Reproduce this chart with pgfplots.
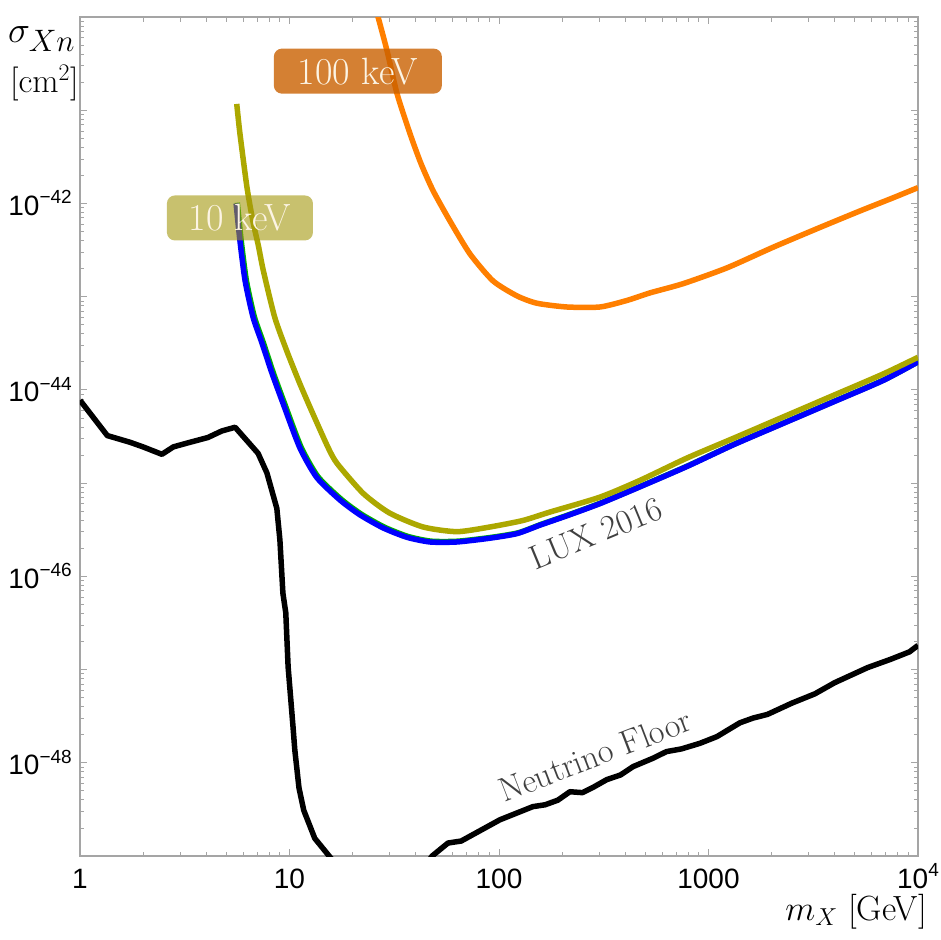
\RequirePackage{fix-cm}
\documentclass[border=0pt]{standalone}
\usepackage{fontspec}
\usepackage{pgfplots}
\pgfplotsset{compat=1.18}
\newfontfamily\arial{Liberation Sans}
\definecolor{luxblue}{RGB}{0,0,255}
\definecolor{luxgreen}{RGB}{0,175,0}
\definecolor{olivecurve}{RGB}{172,168,0}
\definecolor{orangecurve}{RGB}{255,127,0}
\definecolor{boxorange}{RGB}{201,96,0}
\definecolor{boxolive}{RGB}{163,152,13}
\definecolor{boxtext}{RGB}{252,244,228}
\definecolor{axisgray}{RGB}{165,165,165}
\newcommand{\tl}[1]{10\raisebox{0.42em}{\fontsize{19bp}{19bp}\selectfont #1}}
\begin{document}
\begin{tikzpicture}
\begin{axis}[
  scale only axis,
  width=838bp, height=839bp,
  xmode=log, ymode=log,
  xmin=1, xmax=10000, ymin=1e-49, ymax=1e-40,
  axis line style={axisgray, line width=1.2bp},
  every tick/.style={axisgray, line width=0.9bp},
  major tick length=7bp, minor tick length=4.5bp,
  xtick={1,10,100,1000,10000},
  xticklabels={1,10,100,1000,\tl{4}},
  minor xtick={2,3,4,5,6,7,8,9,20,30,40,50,60,70,80,90,200,300,400,500,600,700,800,900,2000,3000,4000,5000,6000,7000,8000,9000},
  ytick={1e-49,1e-48,1e-47,1e-46,1e-45,1e-44,1e-43,1e-42,1e-41,1e-40},
  yticklabels={,\tl{−48},,\tl{−46},,\tl{−44},,\tl{−42},,},
  minor ytick={2e-49,3e-49,4e-49,5e-49,6e-49,7e-49,8e-49,9e-49,
    2e-48,3e-48,4e-48,5e-48,6e-48,7e-48,8e-48,9e-48,
    2e-47,3e-47,4e-47,5e-47,6e-47,7e-47,8e-47,9e-47,
    2e-46,3e-46,4e-46,5e-46,6e-46,7e-46,8e-46,9e-46,
    2e-45,3e-45,4e-45,5e-45,6e-45,7e-45,8e-45,9e-45,
    2e-44,3e-44,4e-44,5e-44,6e-44,7e-44,8e-44,9e-44,
    2e-43,3e-43,4e-43,5e-43,6e-43,7e-43,8e-43,9e-43,
    2e-42,3e-42,4e-42,5e-42,6e-42,7e-42,8e-42,9e-42,
    2e-41,3e-41,4e-41,5e-41,6e-41,7e-41,8e-41,9e-41},
  xticklabel style={font=\arial\fontsize{28bp}{28bp}\selectfont, anchor=north, inner sep=0pt, text height=20bp, text depth=0pt, yshift=-12bp},
  yticklabel style={font=\arial\fontsize{28bp}{28bp}\selectfont, anchor=east, inner sep=0pt, text height=20bp, text depth=0pt, xshift=-8bp, yshift=-2bp},
]
% Neutrino floor
\addplot[black, line width=5.5bp, line join=round] coordinates {
(1,7.76e-45) (1.35,3.24e-45) (1.73,2.75e-45) (2.0,2.45e-45) (2.46,2.04e-45)
(2.79,2.45e-45) (3.24,2.69e-45) (4.08,3.09e-45) (4.75,3.63e-45) (5.5,3.98e-45)
(7.08,2.09e-45) (7.8,1.29e-45) (8.7,5.37e-46) (9.0,2.45e-46) (9.3,6.61e-47)
(9.6,4.07e-47) (9.85,1.07e-47) (10.4,2.40e-48) (10.6,1.38e-48) (11.1,5.37e-49)
(11.7,3.09e-49) (13.2,1.55e-49) (15.6,9.77e-50) (20,5.0e-50) (30,3.2e-50)
(40,5.6e-50) (47.9,1.0e-49) (57.1,1.38e-49) (66,1.45e-49) (101,2.45e-49)
(145,3.39e-49) (166,3.55e-49) (191,3.98e-49) (218,4.90e-49) (250,4.79e-49)
(283,5.50e-49) (327,6.61e-49) (380,7.41e-49) (437,9.12e-49) (543,1.12e-48)
(630,1.32e-48) (742,1.41e-48) (910,1.62e-48) (1096,1.91e-48) (1413,2.69e-48)
(1630,3.02e-48) (1913,3.31e-48) (2500,4.37e-48) (3220,5.50e-48) (4000,7.24e-48)
(5740,1.05e-47) (7400,1.29e-47) (9100,1.55e-47) (10000,1.82e-47)
};
% LUX 2016 (green underlay)
\addplot[luxgreen, line width=5.5bp, smooth, tension=0.4, xshift=1.2bp, yshift=0.8bp] coordinates {
(5.56,1.0e-42) (5.8,3.98e-43) (6.14,1.48e-43) (6.7,6.03e-44) (7.4,3.16e-44)
(8.25,1.51e-44) (9.3,7.24e-45) (11.2,2.40e-45) (13.5,1.15e-45) (17.4,6.61e-46)
(21.7,4.57e-46) (28,3.31e-46) (36.3,2.63e-46) (46.8,2.34e-46) (63,2.34e-46)
(90.6,2.57e-46) (122,2.88e-46) (157,3.55e-46) (211,4.47e-46) (303,6.03e-46)
(470,9.12e-46) (789,1.51e-45) (1310,2.57e-45) (2270,4.37e-45) (3930,7.41e-45)
(6800,1.26e-44) (10000,2.0e-44)
};
% LUX 2016 (blue)
\addplot[luxblue, line width=5.5bp, smooth, tension=0.4] coordinates {
(5.56,1.0e-42) (5.8,3.98e-43) (6.14,1.48e-43) (6.7,6.03e-44) (7.4,3.16e-44)
(8.25,1.51e-44) (9.3,7.24e-45) (11.2,2.40e-45) (13.5,1.15e-45) (17.4,6.61e-46)
(21.7,4.57e-46) (28,3.31e-46) (36.3,2.63e-46) (46.8,2.34e-46) (63,2.34e-46)
(90.6,2.57e-46) (122,2.88e-46) (157,3.55e-46) (211,4.47e-46) (303,6.03e-46)
(470,9.12e-46) (789,1.51e-45) (1310,2.57e-45) (2270,4.37e-45) (3930,7.41e-45)
(6800,1.26e-44) (10000,2.0e-44)
};
% 10 keV
\addplot[olivecurve, line width=5.5bp, smooth, tension=0.4] coordinates {
(5.6,1.17e-41) (5.8,5.62e-42) (6.27,1.48e-42) (6.7,6.31e-43) (7.1,3.55e-43)
(7.5,1.91e-43) (8.5,6.03e-44) (9.7,2.63e-44) (11.2,1.17e-44) (12.9,5.62e-45)
(15.3,2.40e-45) (16.9,1.62e-45) (22.5,7.76e-46) (30,4.79e-46) (43.4,3.39e-46)
(63,3.02e-46) (90.6,3.39e-46) (130,3.98e-46) (175,4.90e-46) (303,7.08e-46)
(470,1.07e-45) (789,1.86e-45) (1310,3.02e-45) (2270,5.13e-45) (3930,8.71e-45)
(6800,1.48e-44) (10000,2.24e-44)
};
% 100 keV
\addplot[orangecurve, line width=5.5bp, smooth, tension=0.4] coordinates {
(25.6,1.32e-40) (29.2,4.37e-41) (32.6,1.51e-41) (37.6,5.62e-42) (42.4,2.69e-42)
(48.4,1.38e-42) (58.4,6.46e-43) (72.7,2.88e-43) (93.6,1.48e-43) (121.9,1.02e-43)
(151.9,8.51e-44) (211,7.76e-44) (303,7.76e-44) (408,9.12e-44) (526,1.10e-43)
(756,1.38e-43) (1225,2.04e-43) (2032,3.39e-43) (3296,5.37e-43) (5286,8.32e-43)
(7597,1.15e-42) (10000,1.48e-42)
};
\node[fill=boxorange, fill opacity=0.8, text opacity=1, text=boxtext, rounded corners=8bp,
  minimum width=168bp, minimum height=45bp, inner sep=0pt,
  font=\fontsize{38bp}{38bp}\selectfont] at (axis cs:21.2,2.63e-41) {100 keV};
\node[fill=boxolive, fill opacity=0.6, text opacity=1, text=boxtext, rounded corners=8bp,
  minimum width=146bp, minimum height=45bp, inner sep=0pt,
  font=\fontsize{38bp}{38bp}\selectfont] at (axis cs:5.8,7.0e-43) {10 keV};
\node[rotate=22.5, text=black!75, font=\fontsize{34bp}{34bp}\selectfont] at (axis cs:290,2.9e-46) {LUX 2016};
\node[rotate=21, text=black!75, font=\fontsize{34bp}{34bp}\selectfont] at (axis cs:287,1.21e-48) {Neutrino Floor};
\end{axis}
\node[anchor=base west, inner sep=0pt, font=\fontsize{37bp}{37bp}\selectfont] at ([shift={(-72bp,-26bp)}]current axis.north west) {$\sigma_{\mbox{\fontsize{31bp}{31bp}\selectfont$Xn$}}$};
\node[anchor=base west, inner sep=0pt, font=\fontsize{34bp}{34bp}\selectfont] at ([shift={(-70bp,-76bp)}]current axis.north west) {$[\mathrm{cm}^2]$};
\node[anchor=base east, inner sep=0pt, font=\fontsize{35bp}{35bp}\selectfont] at ([shift={(9bp,-64bp)}]current axis.south east) {$m_X$ [GeV]};
\pgfresetboundingbox
\path ([shift={(-80bp,-83bp)}]current axis.south west) rectangle ([shift={(23bp,17bp)}]current axis.north east);
\end{tikzpicture}
\end{document}
